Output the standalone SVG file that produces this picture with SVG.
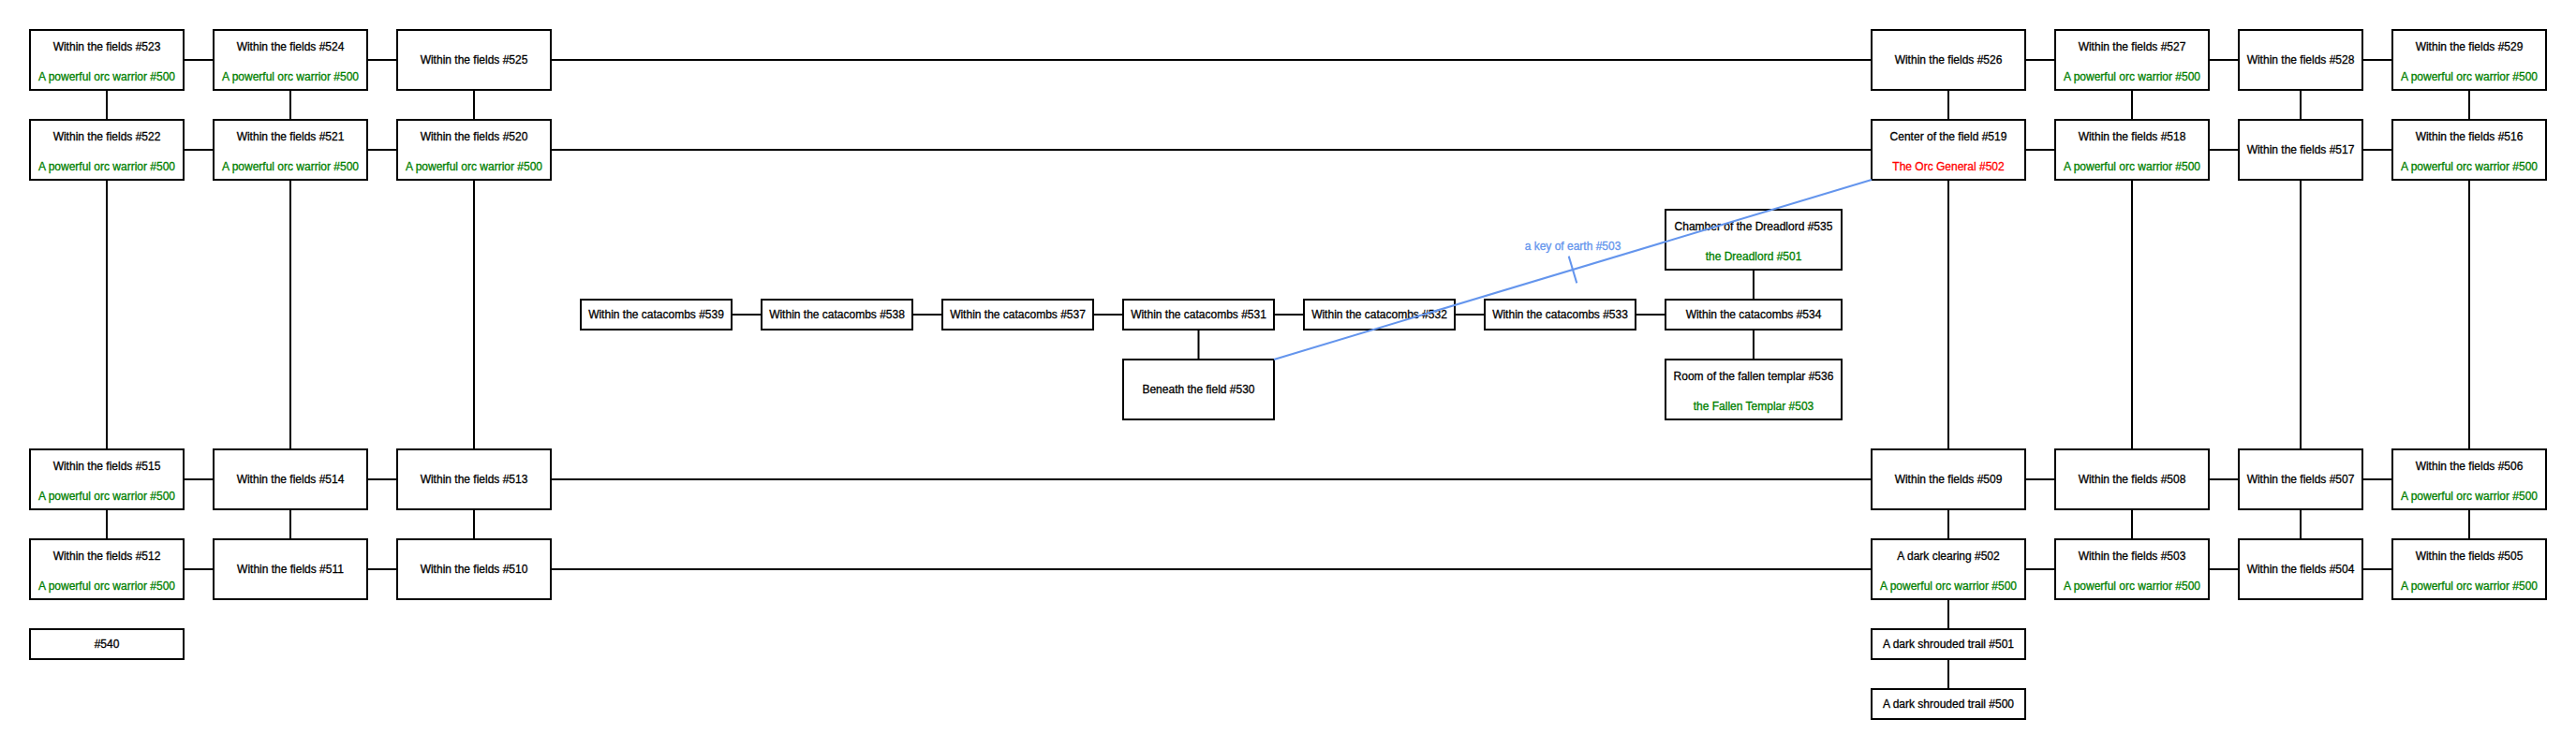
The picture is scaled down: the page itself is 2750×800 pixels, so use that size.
<svg xmlns="http://www.w3.org/2000/svg" width="2750" height="800" viewBox="0 0 2750 800">
<style>
rect.n{fill:#fff;stroke:#000;stroke-width:2}
text{font-family:"Liberation Sans",Arial,sans-serif;font-size:12px;text-anchor:middle;fill:#000;stroke:#000;stroke-width:0.3}
text.m{fill:#008000;stroke:#008000}
text.r{fill:#ff0000;stroke:#ff0000}
text.k{fill:#6495ed;stroke:#6495ed}
#connectors line{stroke:#000;stroke-width:2}
#connectors line.key{stroke:#6495ed;stroke-width:2}
</style>
<rect width="2750" height="800" fill="#fff"/>
<g id="n523"><rect class="n" x="32" y="32" width="164" height="64"/><text x="114" y="54">Within the fields #523</text><text class="m" x="114" y="86">A powerful orc warrior #500</text></g>
<g id="n524"><rect class="n" x="228" y="32" width="164" height="64"/><text x="310" y="54">Within the fields #524</text><text class="m" x="310" y="86">A powerful orc warrior #500</text></g>
<g id="n525"><rect class="n" x="424" y="32" width="164" height="64"/><text x="506" y="68">Within the fields #525</text></g>
<g id="n526"><rect class="n" x="1998" y="32" width="164" height="64"/><text x="2080" y="68">Within the fields #526</text></g>
<g id="n527"><rect class="n" x="2194" y="32" width="164" height="64"/><text x="2276" y="54">Within the fields #527</text><text class="m" x="2276" y="86">A powerful orc warrior #500</text></g>
<g id="n528"><rect class="n" x="2390" y="32" width="132" height="64"/><text x="2456" y="68">Within the fields #528</text></g>
<g id="n529"><rect class="n" x="2554" y="32" width="164" height="64"/><text x="2636" y="54">Within the fields #529</text><text class="m" x="2636" y="86">A powerful orc warrior #500</text></g>
<g id="n522"><rect class="n" x="32" y="128" width="164" height="64"/><text x="114" y="150">Within the fields #522</text><text class="m" x="114" y="182">A powerful orc warrior #500</text></g>
<g id="n521"><rect class="n" x="228" y="128" width="164" height="64"/><text x="310" y="150">Within the fields #521</text><text class="m" x="310" y="182">A powerful orc warrior #500</text></g>
<g id="n520"><rect class="n" x="424" y="128" width="164" height="64"/><text x="506" y="150">Within the fields #520</text><text class="m" x="506" y="182">A powerful orc warrior #500</text></g>
<g id="n519"><rect class="n" x="1998" y="128" width="164" height="64"/><text x="2080" y="150">Center of the field #519</text><text class="r" x="2080" y="182">The Orc General #502</text></g>
<g id="n518"><rect class="n" x="2194" y="128" width="164" height="64"/><text x="2276" y="150">Within the fields #518</text><text class="m" x="2276" y="182">A powerful orc warrior #500</text></g>
<g id="n517"><rect class="n" x="2390" y="128" width="132" height="64"/><text x="2456" y="164">Within the fields #517</text></g>
<g id="n516"><rect class="n" x="2554" y="128" width="164" height="64"/><text x="2636" y="150">Within the fields #516</text><text class="m" x="2636" y="182">A powerful orc warrior #500</text></g>
<g id="n535"><rect class="n" x="1778" y="224" width="188" height="64"/><text x="1872" y="246">Chamber of the Dreadlord #535</text><text class="m" x="1872" y="278">the Dreadlord #501</text></g>
<g id="n539"><rect class="n" x="620" y="320" width="161" height="32"/><text x="700.5" y="340">Within the catacombs #539</text></g>
<g id="n538"><rect class="n" x="813" y="320" width="161" height="32"/><text x="893.5" y="340">Within the catacombs #538</text></g>
<g id="n537"><rect class="n" x="1006" y="320" width="161" height="32"/><text x="1086.5" y="340">Within the catacombs #537</text></g>
<g id="n531"><rect class="n" x="1199" y="320" width="161" height="32"/><text x="1279.5" y="340">Within the catacombs #531</text></g>
<g id="n532"><rect class="n" x="1392" y="320" width="161" height="32"/><text x="1472.5" y="340">Within the catacombs #532</text></g>
<g id="n533"><rect class="n" x="1585" y="320" width="161" height="32"/><text x="1665.5" y="340">Within the catacombs #533</text></g>
<g id="n534"><rect class="n" x="1778" y="320" width="188" height="32"/><text x="1872" y="340">Within the catacombs #534</text></g>
<g id="n530"><rect class="n" x="1199" y="384" width="161" height="64"/><text x="1279.5" y="420">Beneath the field #530</text></g>
<g id="n536"><rect class="n" x="1778" y="384" width="188" height="64"/><text x="1872" y="406">Room of the fallen templar #536</text><text class="m" x="1872" y="438">the Fallen Templar #503</text></g>
<g id="n515"><rect class="n" x="32" y="480" width="164" height="64"/><text x="114" y="502">Within the fields #515</text><text class="m" x="114" y="534">A powerful orc warrior #500</text></g>
<g id="n514"><rect class="n" x="228" y="480" width="164" height="64"/><text x="310" y="516">Within the fields #514</text></g>
<g id="n513"><rect class="n" x="424" y="480" width="164" height="64"/><text x="506" y="516">Within the fields #513</text></g>
<g id="n509"><rect class="n" x="1998" y="480" width="164" height="64"/><text x="2080" y="516">Within the fields #509</text></g>
<g id="n508"><rect class="n" x="2194" y="480" width="164" height="64"/><text x="2276" y="516">Within the fields #508</text></g>
<g id="n507"><rect class="n" x="2390" y="480" width="132" height="64"/><text x="2456" y="516">Within the fields #507</text></g>
<g id="n506"><rect class="n" x="2554" y="480" width="164" height="64"/><text x="2636" y="502">Within the fields #506</text><text class="m" x="2636" y="534">A powerful orc warrior #500</text></g>
<g id="n512"><rect class="n" x="32" y="576" width="164" height="64"/><text x="114" y="598">Within the fields #512</text><text class="m" x="114" y="630">A powerful orc warrior #500</text></g>
<g id="n511"><rect class="n" x="228" y="576" width="164" height="64"/><text x="310" y="612">Within the fields #511</text></g>
<g id="n510"><rect class="n" x="424" y="576" width="164" height="64"/><text x="506" y="612">Within the fields #510</text></g>
<g id="n502"><rect class="n" x="1998" y="576" width="164" height="64"/><text x="2080" y="598">A dark clearing #502</text><text class="m" x="2080" y="630">A powerful orc warrior #500</text></g>
<g id="n503"><rect class="n" x="2194" y="576" width="164" height="64"/><text x="2276" y="598">Within the fields #503</text><text class="m" x="2276" y="630">A powerful orc warrior #500</text></g>
<g id="n504"><rect class="n" x="2390" y="576" width="132" height="64"/><text x="2456" y="612">Within the fields #504</text></g>
<g id="n505"><rect class="n" x="2554" y="576" width="164" height="64"/><text x="2636" y="598">Within the fields #505</text><text class="m" x="2636" y="630">A powerful orc warrior #500</text></g>
<g id="n540"><rect class="n" x="32" y="672" width="164" height="32"/><text x="114" y="692">#540</text></g>
<g id="n501"><rect class="n" x="1998" y="672" width="164" height="32"/><text x="2080" y="692">A dark shrouded trail #501</text></g>
<g id="n500"><rect class="n" x="1998" y="736" width="164" height="32"/><text x="2080" y="756">A dark shrouded trail #500</text></g>
<g id="connectors">
<line x1="196" y1="64" x2="228" y2="64"/><line x1="392" y1="64" x2="424" y2="64"/><line x1="588" y1="64" x2="1998" y2="64"/><line x1="2162" y1="64" x2="2194" y2="64"/><line x1="2358" y1="64" x2="2390" y2="64"/><line x1="2522" y1="64" x2="2554" y2="64"/>
<line x1="196" y1="160" x2="228" y2="160"/><line x1="392" y1="160" x2="424" y2="160"/><line x1="588" y1="160" x2="1998" y2="160"/><line x1="2162" y1="160" x2="2194" y2="160"/><line x1="2358" y1="160" x2="2390" y2="160"/><line x1="2522" y1="160" x2="2554" y2="160"/>
<line x1="196" y1="512" x2="228" y2="512"/><line x1="392" y1="512" x2="424" y2="512"/><line x1="588" y1="512" x2="1998" y2="512"/><line x1="2162" y1="512" x2="2194" y2="512"/><line x1="2358" y1="512" x2="2390" y2="512"/><line x1="2522" y1="512" x2="2554" y2="512"/>
<line x1="196" y1="608" x2="228" y2="608"/><line x1="392" y1="608" x2="424" y2="608"/><line x1="588" y1="608" x2="1998" y2="608"/><line x1="2162" y1="608" x2="2194" y2="608"/><line x1="2358" y1="608" x2="2390" y2="608"/><line x1="2522" y1="608" x2="2554" y2="608"/>
<line x1="114" y1="96" x2="114" y2="128"/><line x1="310" y1="96" x2="310" y2="128"/><line x1="506" y1="96" x2="506" y2="128"/><line x1="2080" y1="96" x2="2080" y2="128"/><line x1="2276" y1="96" x2="2276" y2="128"/><line x1="2456" y1="96" x2="2456" y2="128"/><line x1="2636" y1="96" x2="2636" y2="128"/>
<line x1="114" y1="192" x2="114" y2="480"/><line x1="310" y1="192" x2="310" y2="480"/><line x1="506" y1="192" x2="506" y2="480"/><line x1="2080" y1="192" x2="2080" y2="480"/><line x1="2276" y1="192" x2="2276" y2="480"/><line x1="2456" y1="192" x2="2456" y2="480"/><line x1="2636" y1="192" x2="2636" y2="480"/>
<line x1="114" y1="544" x2="114" y2="576"/><line x1="310" y1="544" x2="310" y2="576"/><line x1="506" y1="544" x2="506" y2="576"/><line x1="2080" y1="544" x2="2080" y2="576"/><line x1="2276" y1="544" x2="2276" y2="576"/><line x1="2456" y1="544" x2="2456" y2="576"/><line x1="2636" y1="544" x2="2636" y2="576"/>
<line x1="2080" y1="640" x2="2080" y2="672"/><line x1="2080" y1="704" x2="2080" y2="736"/>
<line x1="781" y1="336" x2="813" y2="336"/><line x1="974" y1="336" x2="1006" y2="336"/><line x1="1167" y1="336" x2="1199" y2="336"/><line x1="1360" y1="336" x2="1392" y2="336"/><line x1="1553" y1="336" x2="1585" y2="336"/><line x1="1746" y1="336" x2="1778" y2="336"/>
<line x1="1279.5" y1="352" x2="1279.5" y2="384"/><line x1="1872" y1="288" x2="1872" y2="320"/><line x1="1872" y1="352" x2="1872" y2="384"/>
<line class="key" x1="1360" y1="384" x2="1998" y2="192"/>
<line class="key" x1="1674.7" y1="273.6" x2="1683.3" y2="302.4"/>
<text class="k" x="1679" y="267">a key of earth #503</text>
</g>
</svg>
